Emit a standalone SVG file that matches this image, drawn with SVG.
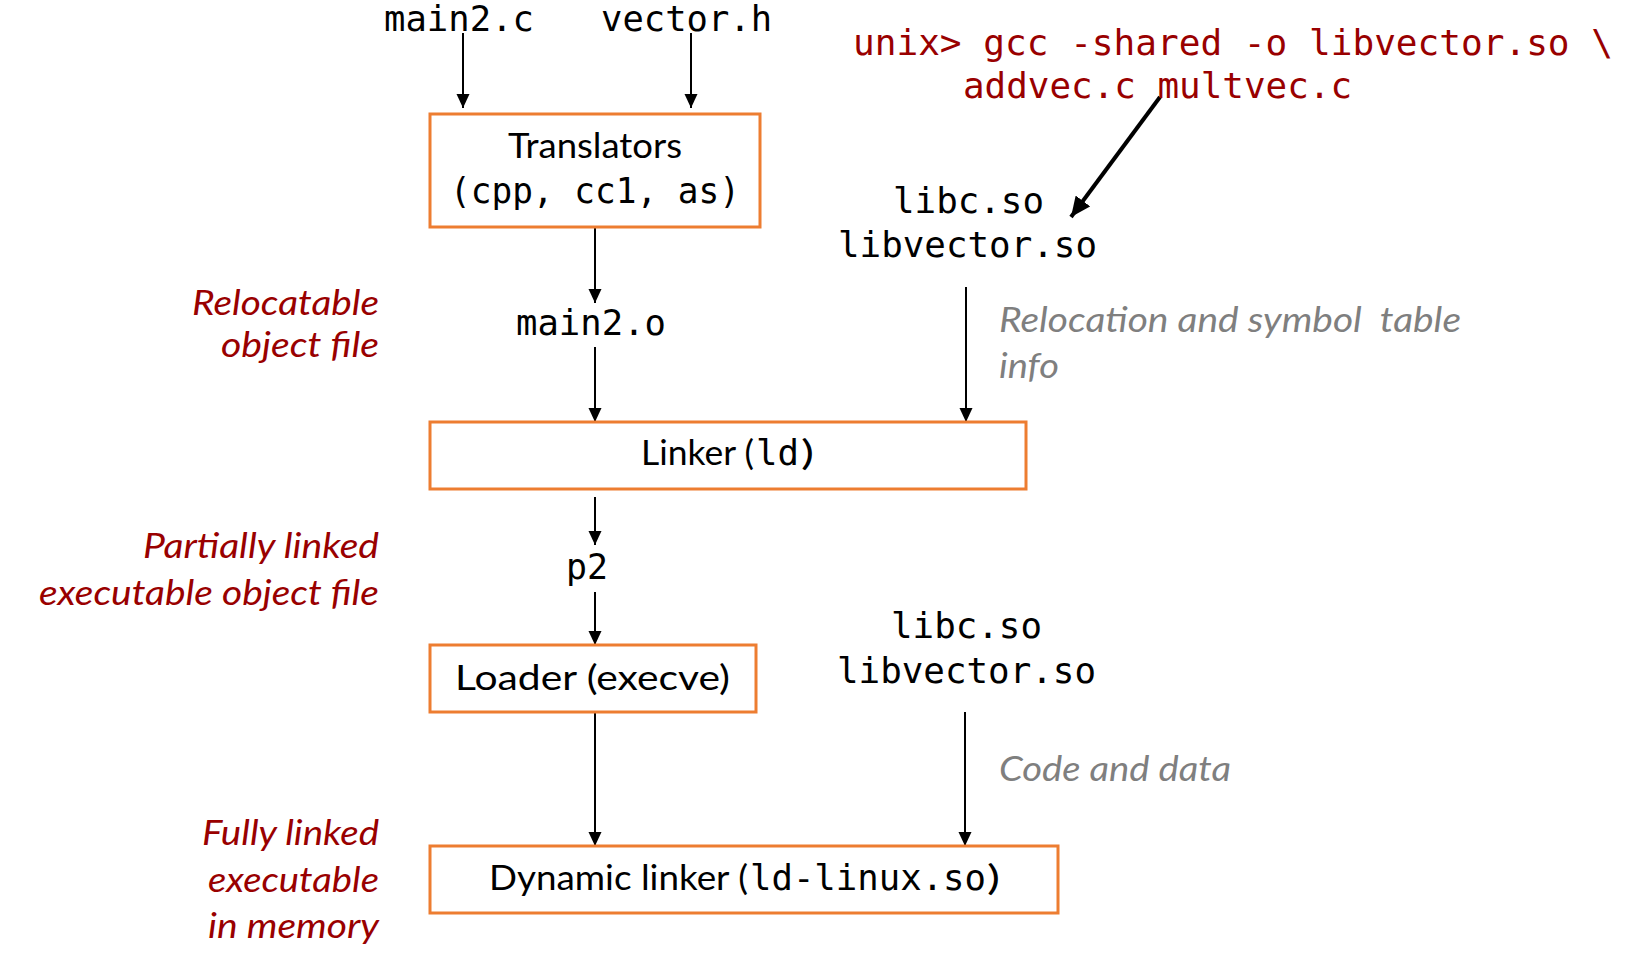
<svg xmlns="http://www.w3.org/2000/svg" width="1628" height="955" viewBox="0 0 1628 955">
<defs>
<style>
.box{fill:#fff;stroke:#ED7D31;stroke-width:3}
.mono{font-family:"DejaVu Sans Mono","Liberation Mono",monospace;font-size:36px;fill:#000}
.sans{font-family:Lato,"Open Sans","Liberation Sans",sans-serif;font-size:34px;fill:#000}
.red{fill:#990000}
.lab{font-family:Lato,"Open Sans","Liberation Sans",sans-serif;font-style:italic;font-size:34px;fill:#990000;text-anchor:end}
.gray{font-family:Lato,"Open Sans","Liberation Sans",sans-serif;font-style:italic;font-size:34px;fill:#7F7F7F;white-space:pre}
.ln{stroke:#000;stroke-width:2;fill:none;marker-end:url(#ah)}
.lnb{stroke:#000;stroke-width:4;fill:none;marker-end:url(#ahb)}
</style>
<marker id="ah" markerUnits="userSpaceOnUse" markerWidth="14" markerHeight="14" refX="14" refY="7" orient="auto">
<path d="M0,0.5 L14,7 L0,13.5 z" fill="#000"/>
</marker>
<marker id="ahb" markerUnits="userSpaceOnUse" markerWidth="20" markerHeight="18" refX="20" refY="9" orient="auto">
<path d="M0,0 L20,9 L0,18 z" fill="#000"/>
</marker>
</defs>
<rect width="1628" height="955" fill="#fff"/>

<g id="connectors">
<line class="ln" x1="463" y1="33" x2="463" y2="108"/>
<line class="ln" x1="691" y1="33" x2="691" y2="108"/>
<line class="ln" x1="595" y1="228" x2="595" y2="303"/>
<line class="ln" x1="595" y1="347" x2="595" y2="422"/>
<line class="ln" x1="966" y1="287" x2="966" y2="422"/>
<line class="ln" x1="595" y1="497" x2="595" y2="545"/>
<line class="ln" x1="595" y1="592" x2="595" y2="645"/>
<line class="ln" x1="595" y1="713" x2="595" y2="846"/>
<line class="ln" x1="965" y1="712" x2="965" y2="846"/>
<line class="lnb" x1="1160" y1="97" x2="1071" y2="217"/>
</g>

<g id="src-main2c"><text class="mono" x="384" y="31" textLength="150" lengthAdjust="spacingAndGlyphs">main2.c</text></g>
<g id="src-vectorh"><text class="mono" x="601" y="31" textLength="171" lengthAdjust="spacingAndGlyphs">vector.h</text></g>

<g id="cmd">
<text class="mono red" x="853" y="55" textLength="760" lengthAdjust="spacingAndGlyphs">unix&gt; gcc -shared -o libvector.so \</text>
<text class="mono red" x="963" y="98" textLength="389" lengthAdjust="spacingAndGlyphs">addvec.c multvec.c</text>
</g>

<g id="translators">
<rect class="box" x="430" y="114" width="330" height="113"/>
<text class="sans" x="508" y="158" textLength="174" lengthAdjust="spacingAndGlyphs">Translators</text>
<text class="mono" x="450" y="203" textLength="290" lengthAdjust="spacingAndGlyphs">(cpp, cc1, as)</text>
</g>

<g id="libs-top">
<text class="mono" x="893" y="213" textLength="151" lengthAdjust="spacingAndGlyphs">libc.so</text>
<text class="mono" x="838" y="257" textLength="259" lengthAdjust="spacingAndGlyphs">libvector.so</text>
</g>

<g id="label-reloc">
<text class="lab" x="379" y="315" textLength="187" lengthAdjust="spacingAndGlyphs">Relocatable</text>
<text class="lab" x="379" y="357" textLength="158" lengthAdjust="spacingAndGlyphs">object file</text>
</g>

<g id="main2o"><text class="mono" x="516" y="335" textLength="150" lengthAdjust="spacingAndGlyphs">main2.o</text></g>

<g id="note-reloc">
<text class="gray" x="999" y="332" textLength="462" lengthAdjust="spacingAndGlyphs" xml:space="preserve">Relocation and symbol  table</text>
<text class="gray" x="999" y="378" textLength="60" lengthAdjust="spacingAndGlyphs">info</text>
</g>

<g id="linker">
<rect class="box" x="430" y="422" width="596" height="67"/>
<text y="465"><tspan class="sans" x="641" textLength="113" lengthAdjust="spacingAndGlyphs">Linker (</tspan><tspan class="mono" x="756" textLength="43" lengthAdjust="spacingAndGlyphs">ld</tspan><tspan class="sans" x="801" textLength="13" lengthAdjust="spacingAndGlyphs">)</tspan></text>
</g>

<g id="label-partial">
<text class="lab" x="379" y="558" textLength="236" lengthAdjust="spacingAndGlyphs">Partially linked</text>
<text class="lab" x="379" y="605" textLength="340" lengthAdjust="spacingAndGlyphs">executable object file</text>
</g>

<g id="p2"><text class="mono" x="566" y="579" textLength="42" lengthAdjust="spacingAndGlyphs">p2</text></g>

<g id="loader">
<rect class="box" x="430" y="645" width="326" height="67"/>
<text class="sans" x="455" y="690" textLength="275" lengthAdjust="spacingAndGlyphs">Loader (execve)</text>
</g>

<g id="libs-bottom">
<text class="mono" x="891" y="638" textLength="151" lengthAdjust="spacingAndGlyphs">libc.so</text>
<text class="mono" x="837" y="683" textLength="259" lengthAdjust="spacingAndGlyphs">libvector.so</text>
</g>

<g id="note-code"><text class="gray" x="999" y="781" textLength="232" lengthAdjust="spacingAndGlyphs">Code and data</text></g>

<g id="label-full">
<text class="lab" x="379" y="845" textLength="177" lengthAdjust="spacingAndGlyphs">Fully linked</text>
<text class="lab" x="379" y="892" textLength="171" lengthAdjust="spacingAndGlyphs">executable</text>
<text class="lab" x="379" y="938" textLength="171" lengthAdjust="spacingAndGlyphs">in memory</text>
</g>

<g id="dynlinker">
<rect class="box" x="430" y="846" width="628" height="67"/>
<text y="890"><tspan class="sans" x="489" textLength="259" lengthAdjust="spacingAndGlyphs">Dynamic linker (</tspan><tspan class="mono" x="750" textLength="236" lengthAdjust="spacingAndGlyphs">ld-linux.so</tspan><tspan class="sans" x="987" textLength="13" lengthAdjust="spacingAndGlyphs">)</tspan></text>
</g>
</svg>
